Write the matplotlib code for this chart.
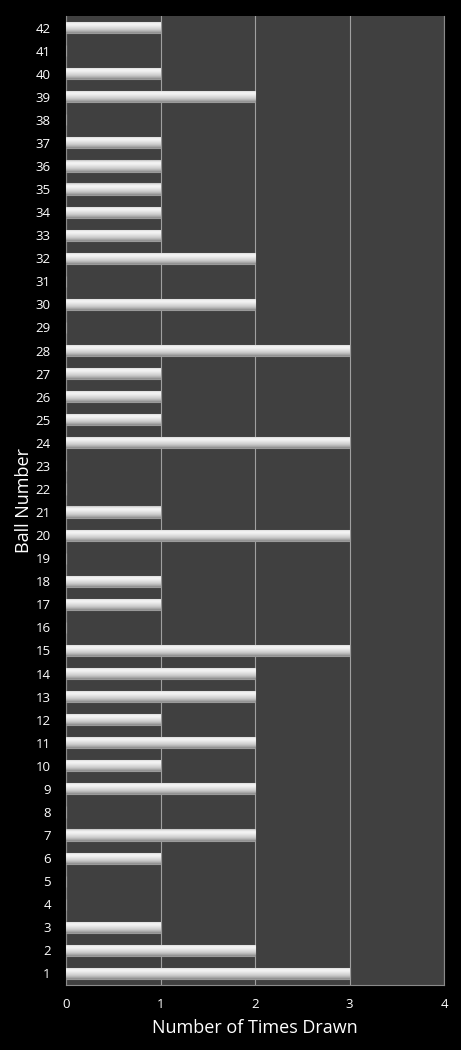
import numpy as np
import matplotlib
matplotlib.use("Agg")
import matplotlib.pyplot as plt

balls = list(range(1, 43))
times_drawn = [3, 2, 1, 0, 0, 1, 2, 0, 2, 1,
               2, 1, 2, 2, 3, 0, 1, 1, 0, 3,
               1, 0, 0, 3, 1, 1, 1, 3, 0, 2,
               0, 2, 1, 1, 1, 1, 1, 0, 2, 1,
               0, 1]
x_ticks = [0, 1, 2, 3, 4]

plt.rcParams['font.family'] = ['Open Sans', 'DejaVu Sans']

fig = plt.figure(figsize=(4.61, 10.5), dpi=100, facecolor='black')
ax = fig.add_axes([66 / 461, 1 - 985 / 1050, (444 - 66) / 461, (985 - 16) / 1050])
ax.set_facecolor('#404040')

bars = ax.barh(balls, times_drawn, height=0.48, color='#d8d8d8',
               edgecolor='#9a9a9a', linewidth=0.8, zorder=3)

# top-to-bottom shading, like the glossy bars of the original
grad = np.array([0.80, 0.92, 0.96, 0.94, 0.90, 0.86, 0.82, 0.76, 0.68, 0.58]).reshape(-1, 1)
for b in bars:
    if b.get_width() <= 0:
        continue
    x0, y0 = b.get_x(), b.get_y()
    w, h = b.get_width(), b.get_height()
    im = ax.imshow(grad[::-1], cmap='gray', vmin=0, vmax=1, aspect='auto',
                   extent=[x0, x0 + w, y0, y0 + h], origin='lower', zorder=3.5,
                   interpolation='bilinear')
    im.set_clip_path(b)

ax.set_xlim(0, 4)
ax.set_ylim(0.5, 42.5)
ax.set_xticks(x_ticks)
ax.set_yticks(balls)
ax.set_yticklabels([str(b) for b in balls])
ax.tick_params(colors='white', labelsize=9.5, length=0, pad=12)
ax.tick_params(axis='y', pad=11)
ax.tick_params(axis='x', pad=9)
ax.xaxis.grid(True, color='#a0a0a0', linewidth=0.8, zorder=1)
ax.set_axisbelow(True)

ax.spines['top'].set_visible(False)
for side in ['left', 'right', 'bottom']:
    ax.spines[side].set_color('#8a8a8a')
    ax.spines[side].set_linewidth(0.8)

ax.set_xlabel('Number of Times Drawn', color='white', fontsize=13, labelpad=6)
ax.set_ylabel('Ball Number', color='white', fontsize=13)
ax.yaxis.set_label_coords(-0.086, 0.5)

fig.savefig('out.png', dpi=100, facecolor='black')
